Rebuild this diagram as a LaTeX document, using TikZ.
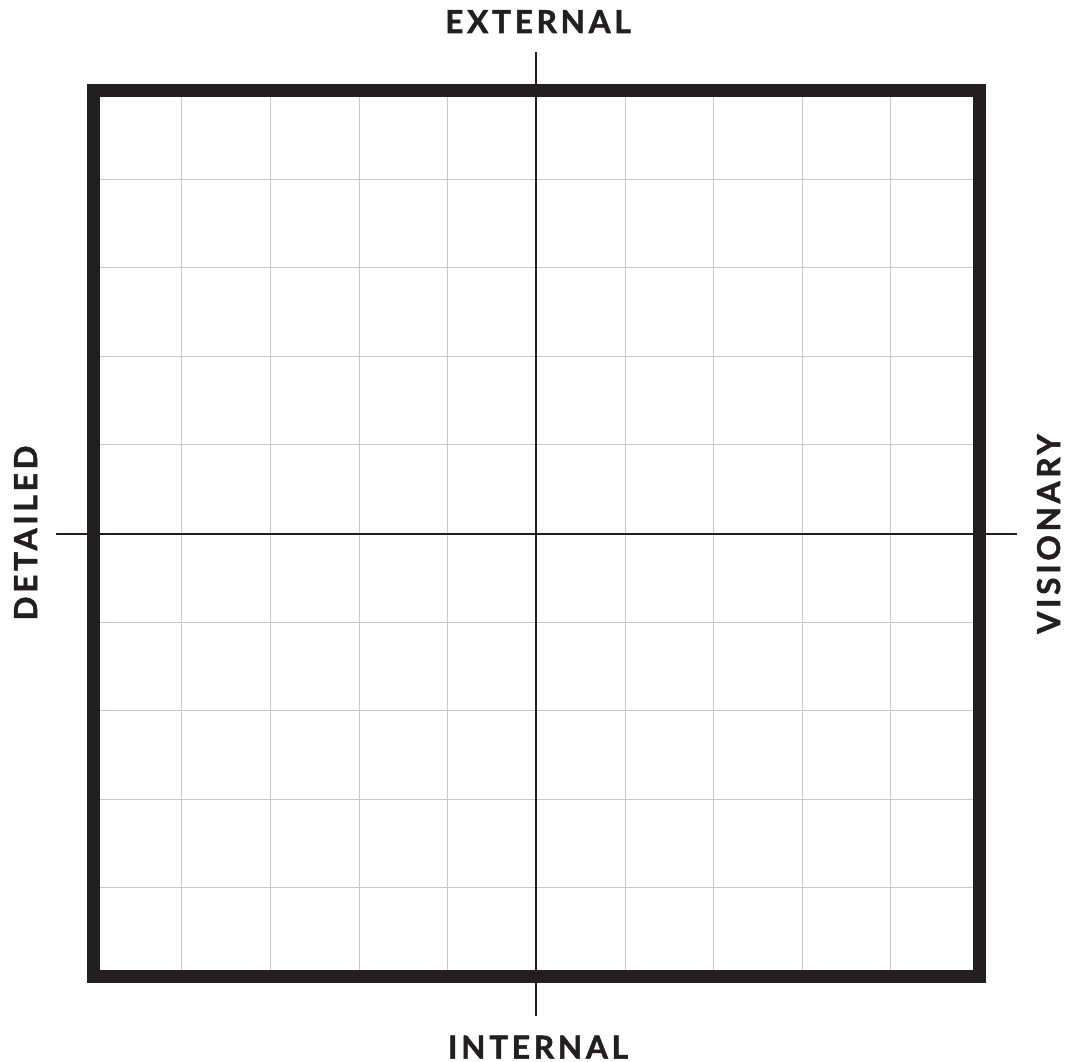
\documentclass[tikz,border=0pt]{standalone}
\usepackage{fontspec}
\setmainfont{Lato}
\definecolor{ink}{HTML}{231F20}
\definecolor{gridgray}{HTML}{C8C8C8}
\begin{document}
\begin{tikzpicture}[x=1pt,y=-1pt,
  gridline/.style={draw=gridgray,line width=0.9pt},
  axisline/.style={draw=ink,line width=2pt},
  frameline/.style={draw=ink,line width=13pt,line join=miter},
  axislabel/.style={text=ink,font=\fontsize{31.5}{31.5}\selectfont\bfseries\addfontfeature{LetterSpace=12,FakeBold=1.6},inner sep=0pt}]
\useasboundingbox (0,0) rectangle (1065,1062);
\fill[white] (0,0) rectangle (1065,1062);
% grid
\foreach \i in {1,...,9}{
  \draw[gridline] ({93.3+88.62*\i},90.5) -- ({93.3+88.62*\i},976.5);
  \draw[gridline] (93.3,{90.5+88.6*\i}) -- (979.5,{90.5+88.6*\i});
}
% axis end points
\coordinate (top) at (536.4,52);
\coordinate (bottom) at (536.4,1016);
\coordinate (left) at (56,534);
\coordinate (right) at (1017,534);
\draw[axisline] (top) -- (bottom);
\draw[axisline] (left) -- (right);
% frame
\draw[frameline] (93.3,90.5) rectangle (979.5,976.5);
% labels
\node[axislabel,anchor=base] (ext) at (538,33) {EXTERNAL};
\node[axislabel,anchor=base] (int) at (538,1058.5) {INTERNAL};
\node[axislabel,rotate=90,anchor=base] (det) at (37,533) {DETAILED};
\node[axislabel,rotate=90,anchor=base] (vis) at (1060,534) {VISIONARY};
\end{tikzpicture}
\end{document}
